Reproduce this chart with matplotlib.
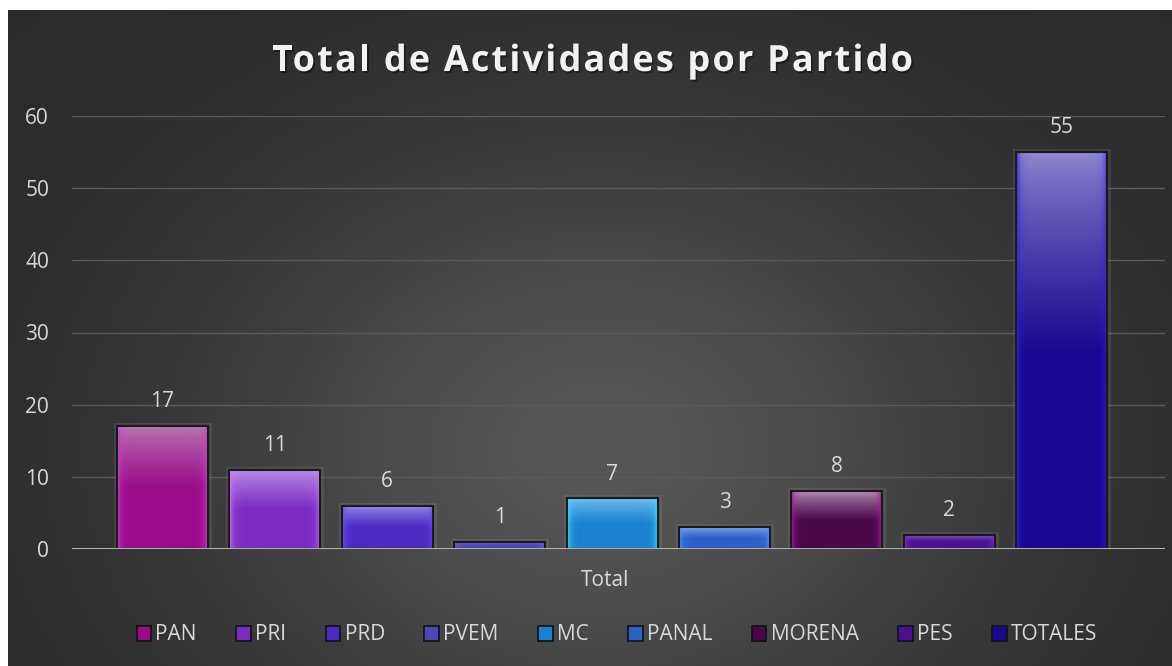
import numpy as np
import matplotlib
matplotlib.use("Agg")
import matplotlib.pyplot as plt
import matplotlib.patheffects as pe
from matplotlib.patches import Patch
from matplotlib.colors import to_rgb

plt.rcParams["font.family"] = ["Open Sans", "DejaVu Sans"]

# ---- data ----
partidos = ["PAN", "PRI", "PRD", "PVEM", "MC", "PANAL", "MORENA", "PES", "TOTALES"]
valores = [17, 11, 6, 1, 7, 3, 8, 2, 55]
categoria = "Total"
titulo = "Total de Actividades por Partido"
yticks = [0, 10, 20, 30, 40, 50, 60]

# colours: (top, bottom, bright edge)
top_cols = ["#b87ab0", "#c092e8", "#9a90e8", "#8a82d8", "#72c0f0", "#82a8f0", "#b890b8", "#9062c8", "#9088d0"]
bot_cols = ["#9a0c8a", "#7a2cc2", "#4a2ac2", "#4e46b6", "#1a80d0", "#2a60c8", "#48084a", "#4a1292", "#1a0890"]
edge_cols = ["#d040c8", "#d080ff", "#6a50ff", "#6a60e0", "#40e0ff", "#5a90ff", "#a020a0", "#7a30d0", "#3020e0"]

TXT = "#d9d9d9"
FS = 15

W, H = 1172, 666
fig = plt.figure(figsize=(W / 100, H / 100), dpi=100, facecolor="white")

# background gradient panel
bx0, by_top = 8, 10
bg = fig.add_axes([bx0 / W, 0, 1 - bx0 / W, 1 - by_top / H])
bg.set_axis_off()
xx, yy = np.meshgrid(np.linspace(bx0, W, 300), np.linspace(by_top, H, 200))
d = ((xx - 600) / 430) ** 2 + ((yy - 450) / 330) ** 2
v = 0x2a + (0x56 - 0x2a) * np.exp(-d * 1.1)
img = np.dstack([v, v, v]) / 255.0
bg.imshow(img, aspect="auto", extent=[0, 1, 0, 1], origin="upper")
bg.set_xlim(0, 1)
bg.set_ylim(0, 1)

# plot axes
ax_l, ax_r = 72, 1165
ax_t, ax_b = 116, 549
ax = fig.add_axes([ax_l / W, 1 - ax_b / H, (ax_r - ax_l) / W, (ax_b - ax_t) / H])
ax.set_facecolor("none")
n = len(partidos)
step = 112.4
c0 = 162.5
xs = np.arange(n)
for s in ax.spines.values():
    s.set_visible(False)
ax.set_yticks(yticks)
ax.set_yticklabels([str(t) for t in yticks])
ax.tick_params(axis="y", length=0, pad=16.5, labelsize=FS, labelcolor=TXT)
ax.set_xticks([])
ax.grid(axis="y", color="#5a5a5a", linewidth=1)
ax.set_axisbelow(True)
ax.axhline(0, color="#bfbfbf", linewidth=2, zorder=5)

bw = 91 / step
for i, (x, val) in enumerate(zip(xs, valores)):
    bars = ax.bar(x, val, width=bw, color=bot_cols[i], edgecolor="#1a1a1a",
                  linewidth=1.5, zorder=3)
    p = bars[0]
    p.set_path_effects([pe.Stroke(linewidth=5, foreground=(0.7, 0.7, 0.7, 0.15)), pe.Normal()])
    t = np.array(to_rgb(top_cols[i]))
    b = np.array(to_rgb(bot_cols[i]))
    e = np.array(to_rgb(edge_cols[i]))
    ny, nx = 100, 40
    fy = np.linspace(0, 1, ny)[:, None, None]
    mix = np.clip(fy / 0.5, 0, 1) ** 0.8
    col = t * (1 - mix) + b * mix
    col = np.repeat(col, nx, axis=1)
    fx = np.linspace(0, 1, nx)
    edgew = np.exp(-(fx / 0.035)) + np.exp(-((1 - fx) / 0.035))
    edgew = np.clip(edgew, 0, 1)[None, :, None] * 0.75
    col = col * (1 - edgew) + e * edgew
    im = ax.imshow(col, extent=[x - bw / 2, x + bw / 2, 0, val], aspect="auto",
                   origin="upper", zorder=3.5, interpolation="bilinear")
    im.set_clip_path(p)
    ax.bar(x, val, width=bw, color="none", edgecolor="#1a1a1a", linewidth=1.5, zorder=4)
    ax.annotate(str(val), (x, val), xytext=(0, 10), textcoords="offset points",
                ha="center", va="bottom", fontsize=FS, color=TXT, zorder=6)

ax.set_xlim((ax_l - c0) / step, (ax_r - c0) / step)
ax.set_ylim(0, 60)

# category label
fig.text(605 / W, 1 - 580 / H, categoria, ha="center", va="center", fontsize=FS, color=TXT)

# title with letter spacing
renderer = fig.canvas.get_renderer()
tfs = 26
def tw(s):
    if not s:
        return 0.0
    tt = fig.text(0, 0, s, fontsize=tfs, fontweight="bold")
    w_ = tt.get_window_extent(renderer).width
    tt.remove()
    return w_
full = tw(titulo)
target_l, target_r = 272, 913
sp = (target_r - target_l - full) / (len(titulo) - 1)
for k, ch in enumerate(titulo):
    if ch == " ":
        continue
    left = tw(titulo[:k + 1]) - tw(ch) + k * sp + target_l
    fig.text(left / W, 1 - 71 / H, ch, ha="left", va="baseline", fontsize=tfs,
             fontweight="bold", color="#f2f2f2",
             path_effects=[pe.withSimplePatchShadow(offset=(1.2, -1.5), alpha=0.4,
                                                    shadow_rgbFace=(0, 0, 0))])

# legend
handles = [Patch(facecolor=bot_cols[i], edgecolor="#111111", linewidth=1.2) for i in range(n)]
leg = fig.legend(handles, partidos, loc="center", bbox_to_anchor=(617 / W, 1 - 635 / H),
                 ncol=n, frameon=False, fontsize=FS, handlelength=0.7, handleheight=0.7,
                 handletextpad=0.2, columnspacing=1.9)
for txt in leg.get_texts():
    txt.set_color(TXT)

fig.savefig("out.png", dpi=100, facecolor="white")
